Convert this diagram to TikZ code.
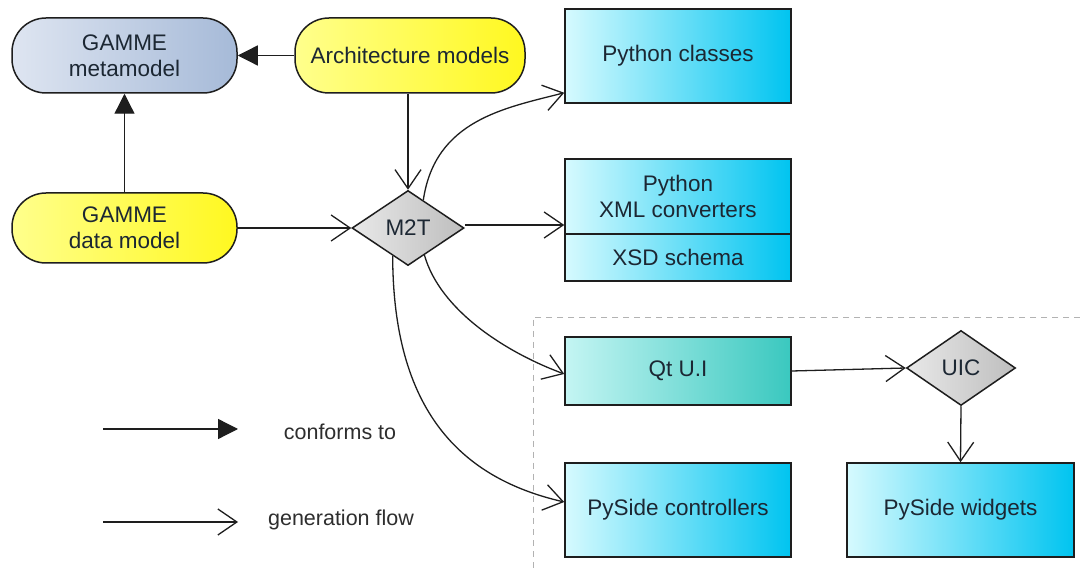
\documentclass[tikz,border=0pt]{standalone}
\usepackage{fontspec}
\setmainfont{Liberation Sans}
\usetikzlibrary{shapes.geometric,arrows.meta,calc}
\definecolor{txt}{HTML}{1C2733}
\definecolor{legtxt}{HTML}{2E2E2E}
\definecolor{yelL}{HTML}{FFFF8C}
\definecolor{yelR}{HTML}{FFF820}
\definecolor{metaL}{HTML}{DEE5F1}
\definecolor{metaR}{HTML}{A6BAD8}
\definecolor{cyanL}{HTML}{D6FAFE}
\definecolor{cyanR}{HTML}{00C4F0}
\definecolor{tealL}{HTML}{C4F5F3}
\definecolor{tealR}{HTML}{3AC8BF}
\definecolor{grayL}{HTML}{E8E8E8}
\definecolor{grayR}{HTML}{BEBEBE}
\definecolor{edge}{HTML}{1E1E1E}
\begin{document}
\begin{tikzpicture}[x=1pt,y=-1pt,
  base/.style={draw=edge, line width=1.5pt, text=txt, font=\fontsize{22.5}{26}\selectfont, align=center, inner sep=0pt},
  pill/.style={base, rectangle, rounded corners=34pt, minimum width=225pt},
  yel/.style={pill, left color=yelL, right color=yelR},
  box/.style={base, rectangle, minimum width=226pt, left color=cyanL, right color=cyanR},
  dia/.style={base, diamond, left color=grayL, right color=grayR},
  gen/.style={draw=edge, line width=1.3pt, -{Straight Barb[length=19pt,width=26pt,line width=1.3pt]}},
  conf/.style={draw=edge, line width=1.3pt, -{Triangle[length=20pt,width=20pt]}},
  legend/.style={text=legtxt, font=\fontsize{21.5}{25}\selectfont, inner sep=0pt}
]
\fill[white] (0,0) rectangle (1080,569);
\useasboundingbox (0,0) rectangle (1080,569);

% dashed region
\draw[gray!60, line width=0.9pt, dash pattern=on 6pt off 5pt] (1080,317) -- (533,317) -- (533,569);

% nodes
\node[pill, left color=metaL, right color=metaR, minimum height=75pt] (meta) at (124.5,55.5) {GAMME\\metamodel};
\node[yel, minimum width=230pt, minimum height=75pt] (arch) at (410,55.5) {Architecture models};
\node[yel, minimum height=70pt] (data) at (124.5,228) {GAMME\\data model};
\node[dia, minimum width=112pt, minimum height=75pt] (m2t) at (408,228) {M2T};

\node[box, minimum height=94pt] (pyc) at (678,56) {Python classes};
\node[box, minimum height=75pt] (xml) at (678,196.5) {Python\\XML converters};
\node[box, minimum height=47pt] (xsd) at (678,257.5) {XSD schema};
\node[box, minimum height=68pt, left color=tealL, right color=tealR] (qt) at (678,371) {Qt U.I};
\node[dia, minimum width=109pt, minimum height=75pt] (uic) at (961,368) {UIC};
\node[box, minimum height=94pt] (pysc) at (678,510) {PySide controllers};
\node[box, minimum width=227pt, minimum height=94pt] (pysw) at (960.5,510) {PySide widgets};

% conforms-to edges
\draw[conf] (arch.west) -- (meta.east);
\draw[conf] (data.north) -- (meta.south);

% generation edges
\draw[gen] (m2t.north |- arch.south) -- (m2t.north);
\draw[gen] (data.east) -- (m2t.west);
\draw[gen] ($(m2t.east)+(0,-3)$) -- ($(m2t.east -| xml.west)+(0,-3)$);

\coordinate (s1) at ($(m2t.north)!0.27!(m2t.east)$);
\coordinate (e1) at ($(pyc.west)!0.77!(pyc.south west)$);
\draw[gen] (s1) .. controls (435,120) and (505,108) .. (e1);

\coordinate (s2) at ($(m2t.south)!0.29!(m2t.east)$);
\coordinate (e2) at ($(qt.west)+(0,3)$);
\draw[gen] (s2) .. controls (440,310) and (505,352) .. (e2);

\coordinate (s3) at ($(m2t.south)!0.27!(m2t.west)$);
\coordinate (e3) at ($(pysc.west)+(0,-8)$);
\draw[gen] (s3) .. controls (393,410) and (460,478) .. (e3);

\draw[gen] (qt.east) -- (uic.west);
\draw[gen] (uic.south) -- (pysw.north);

% legend
\coordinate (la) at (103,429);
\coordinate (lb) at (238,429);
\coordinate (lc) at (103,522);
\coordinate (ld) at (238,522);
\draw[conf] (la) -- (lb);
\draw[gen] (lc) -- (ld);
\node[legend] (lt1) at (340,432) {conforms to};
\node[legend] (lt2) at (341,520) {generation flow};
\end{tikzpicture}
\end{document}
